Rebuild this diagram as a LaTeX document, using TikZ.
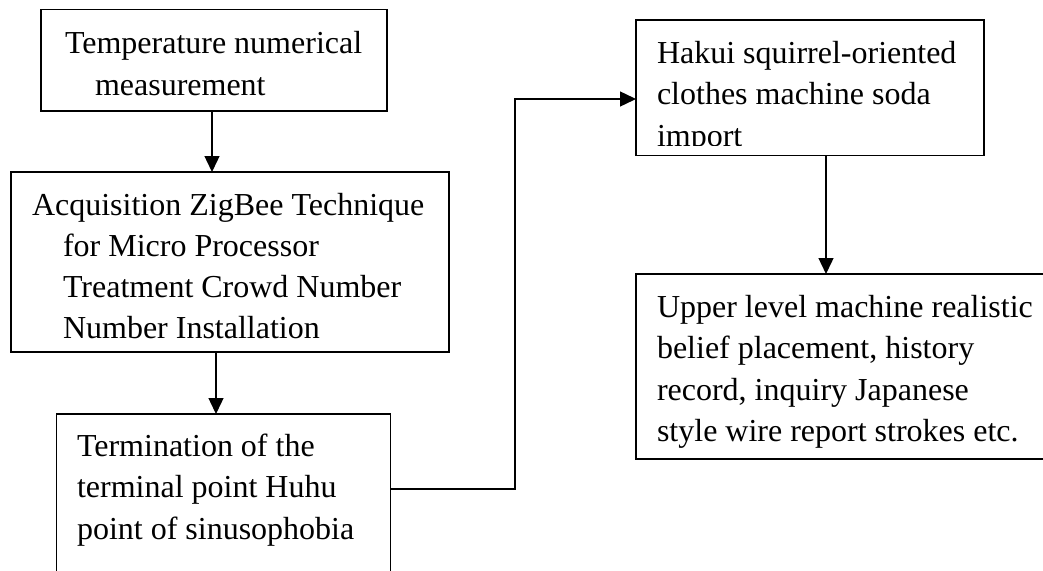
\documentclass[tikz,border=0pt]{standalone}
\usepackage{fontspec}
\setmainfont{Liberation Serif}
\usetikzlibrary{arrows.meta}
\begin{document}
\begin{tikzpicture}[x=1pt,y=-1pt,
  box/.style={draw=black, line width=1.4pt, fill=none, inner sep=0pt, outer sep=0pt, anchor=north west},
  txt/.style={inner sep=0pt, outer sep=0pt, anchor=base west, font=\fontsize{32pt}{41pt}\selectfont},
  arr/.style={line width=1.4pt, -{Triangle[length=16pt,width=15pt]}},
  conn/.style={line width=1.4pt}]
\useasboundingbox (0,0) rectangle (1043,570);
% boxes
\node[box, minimum width=346pt, minimum height=101.5pt] (b1) at (41,9.5) {};
\node[box, minimum width=438pt, minimum height=180pt] (b2) at (11,172) {};
\node[box, minimum width=334pt, minimum height=200pt] (b3) at (56.5,414) {};
\node[box, minimum width=348pt, minimum height=135.5pt] (b4) at (636,20) {};
\node[box, minimum width=420pt, minimum height=185pt] (b5) at (636,274) {};
% texts
\node[txt] (t11) at (65,53) {Temperature numerical};
\node[txt] (t12) at (95,95) {measurement};
\node[txt] (t21) at (32,215) {Acquisition ZigBee Technique};
\node[txt] (t22) at (63,256) {for Micro Processor};
\node[txt] (t23) at (63,297) {Treatment Crowd Number};
\node[txt] (t24) at (63,338) {Number Installation};
\node[txt] (t31) at (77,456) {Termination of the};
\node[txt] (t32) at (77,497.5) {terminal point Huhu};
\node[txt] (t33) at (77,539) {point of sinusophobia};
\node[txt] (t41) at (657,63) {Hakui squirrel-oriented};
\node[txt] (t42) at (657,104) {clothes machine soda};
\begin{scope}
\clip (640,110) rectangle (900,145);
\node[txt] (t43) at (657,146) {import};
\end{scope}
\node[txt] (t51) at (657,317) {Upper level machine realistic};
\node[txt] (t52) at (657,358.5) {belief placement, history};
\node[txt] (t53) at (657,400) {record, inquiry Japanese};
\node[txt] (t54) at (657,441.5) {style wire report strokes etc.};
% connectors
\coordinate (x1) at (212,0);
\coordinate (x2) at (216,0);
\coordinate (x4) at (826,0);
\coordinate (c1) at (515,489);
\coordinate (c2) at (515,99);
\draw[arr] (b1.south -| x1) -- (b2.north -| x1);
\draw[arr] (b2.south -| x2) -- (b3.north -| x2);
\draw[arr] (b3.east |- c1) -- (c1) -- (c2) -- (b4.west |- c2);
\draw[arr] (b4.south -| x4) -- (b5.north -| x4);
\end{tikzpicture}
\end{document}
